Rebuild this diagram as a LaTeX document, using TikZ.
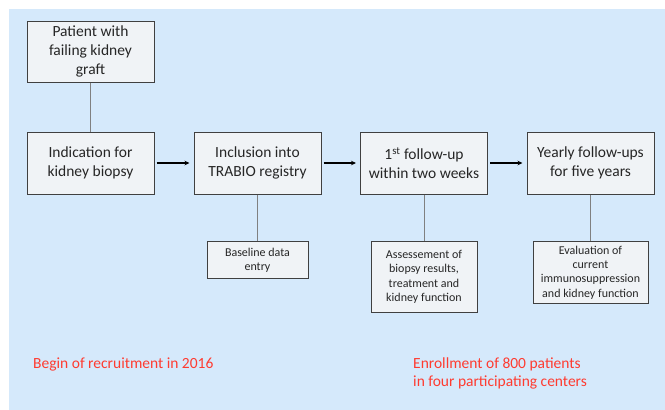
\documentclass[tikz,border=0pt]{standalone}
\usepackage{fontspec}
\setmainfont{Carlito}
\usepackage{xcolor}
\usetikzlibrary{arrows.meta,positioning}
\definecolor{bgblue}{HTML}{D5E9FB}
\definecolor{boxfill}{HTML}{F0F3F6}
\definecolor{boxline}{HTML}{404040}
\definecolor{linkgray}{HTML}{808080}
\definecolor{notered}{HTML}{FF3B30}

\begin{document}
\begin{tikzpicture}[x=1pt,y=-1pt,
  every node/.style={text=black!85},
  bigbox/.style={draw=boxline, fill=boxfill, line width=1pt, align=center, inner sep=2pt,
                 minimum width=127pt, minimum height=62pt, font=\fontsize{15.5}{19}\selectfont},
  smallbox/.style={bigbox, anchor=north, font=\fontsize{12}{14.4}\selectfont},
  flow/.style={-{Stealth[length=5pt,width=4.5pt]}, line width=1.6pt, shorten <=2pt, shorten >=4pt},
  link/.style={draw=linkgray, line width=0.8pt},
  note/.style={text=notered, anchor=north west, inner sep=0pt, align=left, font=\fontsize{15.5}{18}\selectfont}]

% background panel
\useasboundingbox (0,0) rectangle (665,410);
\fill [bgblue] (9,9) rectangle (665,410);

% the main row of stages
\node [bigbox, minimum height=61pt] (patient) at (90.5,51.5) {Patient with\\failing kidney\\graft};
\node [bigbox] (indic) at (90.5,163) {Indication for\\kidney biopsy};
\node [bigbox] (incl) at (257.5,163) {Inclusion into\\TRABIO registry};
\node [bigbox] (fup) at (424,163) {1\textsuperscript{st} follow-up\\within two weeks};
\node [bigbox] (yearly) at (590.5,163) {Yearly follow-ups\\for five years};

\draw [link] (patient) -- (indic);
\foreach \a/\b in {indic/incl, incl/fup, fup/yearly}
  \draw [flow] (\a) -- (\b);

% what is done at each stage
\node [smallbox, minimum width=101pt, minimum height=37pt] (base) at (257.5,241) {Baseline data\\entry};
\node [smallbox, minimum width=106pt, minimum height=71pt] (assess) at (424,241) {Assessement of\\biopsy results,\\treatment and\\kidney function};
\node [smallbox, minimum width=115pt, minimum height=62pt] (eval) at (590.5,241) {Evaluation of\\current\\immunosuppression\\and kidney function};

\foreach \a/\b in {incl/base, fup/assess, yearly/eval}
  \draw [link] (\a) -- (\b);

% red notes
\node [note] (begin) at (33,358) {Begin of recruitment in 2016};
\node [note] (enroll) at (413,358) {Enrollment of 800 patients\\in four participating centers};

\end{tikzpicture}
\end{document}
